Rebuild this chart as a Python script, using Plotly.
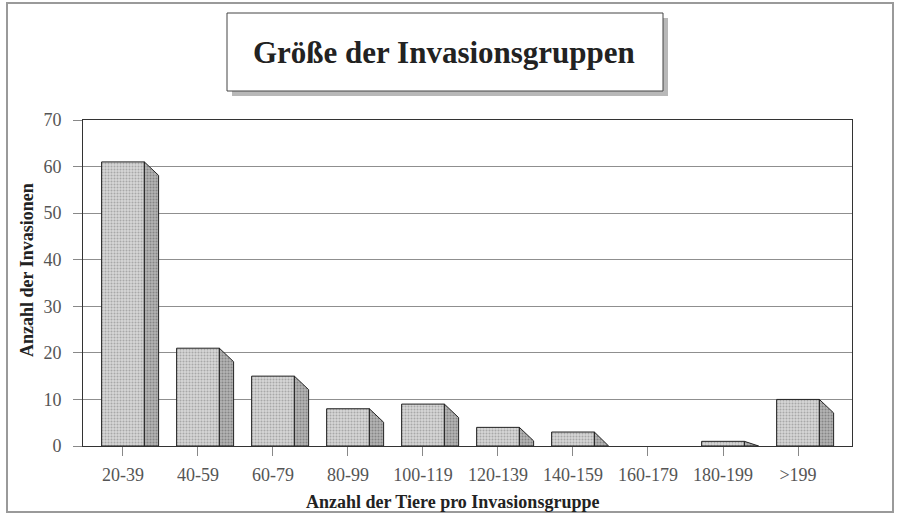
import plotly.graph_objects as go

categories = ["20-39", "40-59", "60-79", "80-99", "100-119", "120-139",
              "140-159", "160-179", "180-199", ">199"]
invasions = [61, 21, 15, 8, 9, 4, 3, 0, 1, 10]
y_ticks = [0, 10, 20, 30, 40, 50, 60, 70]

title_text = "Größe der Invasionsgruppen"
x_title = "Anzahl der Tiere pro Invasionsgruppe"
y_title = "Anzahl der Invasionen"

SERIF = "Liberation Serif, Times New Roman, serif"
BAR_W = 0.57
DEPTH_X = 0.19
DEPTH_Y = 2.9

xs = list(range(len(categories)))

fig = go.Figure()

# front faces
fig.add_trace(go.Bar(
    x=xs, y=invasions, width=BAR_W,
    marker=dict(color="#cfcfcf",
                line=dict(color="#222222",
                          width=[1 if v > 0 else 0 for v in invasions]),
                pattern=dict(shape=".", fgcolor="#7a7a7a", bgcolor="#d6d6d6",
                             size=3, solidity=0.35)),
    showlegend=False, hoverinfo="x+y",
))

# side faces (3D effect) computed from data
for i, v in zip(xs, invasions):
    if v <= 0:
        continue
    xr = i + BAR_W / 2
    top2 = max(v - DEPTH_Y, 0)
    px = [xr, xr + DEPTH_X, xr + DEPTH_X, xr, xr]
    py = [v, top2, 0, 0, v]
    fig.add_trace(go.Scatter(
        x=px, y=py, mode="lines", fill="toself",
        fillcolor="#a8a8a8",
        fillpattern=dict(shape=".", fgcolor="#555555", bgcolor="#b4b4b4",
                         size=3, solidity=0.4),
        line=dict(color="#222222", width=1),
        showlegend=False, hoverinfo="skip",
    ))

L, R, T, B = 83, 46, 120, 76
W, H = 898, 522
pw, ph = W - L - R, H - T - B

def px2x(p):
    return (p - L) / pw

def py2y(p):
    return (H - B - p) / ph

shapes = [
    # outer frame
    dict(type="rect", xref="paper", yref="paper",
         x0=px2x(7), x1=px2x(893), y0=py2y(3), y1=py2y(512),
         line=dict(color="#9a9a9a", width=2), fillcolor="rgba(0,0,0,0)"),
    # title shadow
    dict(type="rect", xref="paper", yref="paper",
         x0=px2x(232), x1=px2x(668), y0=py2y(18), y1=py2y(96),
         line=dict(width=0), fillcolor="#b8b8b8"),
    # title box
    dict(type="rect", xref="paper", yref="paper",
         x0=px2x(227), x1=px2x(663), y0=py2y(13), y1=py2y(91),
         line=dict(color="#444444", width=1), fillcolor="white"),
]

annotations = [
    dict(text="<b>" + title_text + "</b>", xref="paper", yref="paper",
         x=px2x(444), y=py2y(52), showarrow=False,
         xanchor="center", yanchor="middle",
         font=dict(family=SERIF, size=31, color="#222222")),
    dict(text="<b>" + x_title + "</b>", xref="paper", yref="paper",
         x=px2x(452), y=py2y(502), showarrow=False,
         xanchor="center", yanchor="middle",
         font=dict(family=SERIF, size=18, color="#222222")),
    dict(text="<b>" + y_title + "</b>", xref="paper", yref="paper",
         x=px2x(27), y=py2y(270), showarrow=False, textangle=-90,
         xanchor="center", yanchor="middle",
         font=dict(family=SERIF, size=18, color="#222222")),
]

fig.update_layout(
    width=W, height=H,
    margin=dict(l=L, r=R, t=T, b=B),
    paper_bgcolor="white", plot_bgcolor="white",
    bargap=0.4,
    shapes=shapes, annotations=annotations,
    font=dict(family=SERIF, color="#555555", size=18),
    xaxis=dict(range=[-0.533, 9.72], tickvals=xs, ticktext=categories,
               showgrid=False, zeroline=False,
               showline=True, linecolor="#333333", linewidth=1, mirror=True,
               ticks="outside", ticklen=9, tickcolor="#888888",
               ticklabelstandoff=3,
               tickfont=dict(family=SERIF, size=18, color="#555555")),
    yaxis=dict(range=[0, 70], tickvals=y_ticks,
               showgrid=True, gridcolor="#8f8f8f", gridwidth=1,
               zeroline=False,
               showline=True, linecolor="#333333", linewidth=1, mirror=True,
               ticks="outside", ticklen=9, tickcolor="#888888",
               ticklabelstandoff=8,
               tickfont=dict(family=SERIF, size=18, color="#555555")),
)

fig.write_html("out.html",
               config={"displayModeBar": False},
               post_script="document.body.style.margin='0px';"
                           "document.body.style.overflow='hidden';")
